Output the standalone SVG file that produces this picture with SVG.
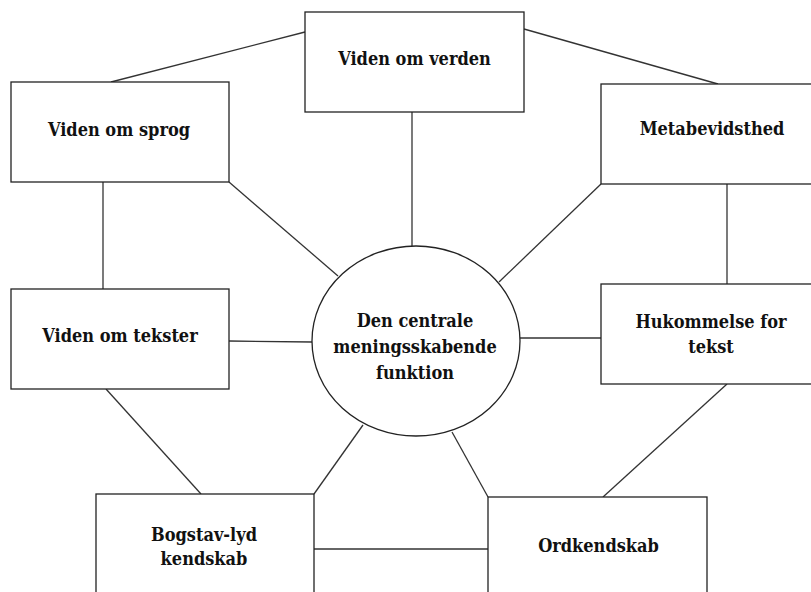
<svg xmlns="http://www.w3.org/2000/svg" width="811" height="592" viewBox="0 0 811 592">
<style>
.box{fill:#fff;stroke:#222;stroke-width:1.3}
.conn line{stroke:#333;stroke-width:1.3}
text{font-family:"DejaVu Serif Condensed","DejaVu Serif","Liberation Serif",serif;font-weight:bold;font-size:18px;fill:#111;text-anchor:middle}
</style>
<rect width="811" height="592" fill="#fff"/>
<g id="connectors" class="conn">
<line x1="305" y1="32" x2="111" y2="82"/>
<line x1="524" y1="29" x2="718" y2="84"/>
<line x1="412" y1="112" x2="412" y2="246"/>
<line x1="103" y1="182" x2="103" y2="289"/>
<line x1="229" y1="182" x2="338" y2="276"/>
<line x1="601" y1="184" x2="499" y2="282"/>
<line x1="727" y1="184" x2="727" y2="284"/>
<line x1="229" y1="341" x2="312" y2="342"/>
<line x1="520" y1="338" x2="601" y2="338"/>
<line x1="106" y1="389" x2="201" y2="494"/>
<line x1="363" y1="425" x2="314" y2="494"/>
<line x1="452" y1="432" x2="488" y2="497"/>
<line x1="727" y1="384" x2="603" y2="497"/>
<line x1="314" y1="549" x2="488" y2="549"/>
</g>
<g id="viden-om-verden"><rect class="box" x="305" y="12" width="219" height="100"/><text x="414.5" y="65">Viden om verden</text></g>
<g id="viden-om-sprog"><rect class="box" x="11" y="82" width="218" height="100"/><text x="119" y="136">Viden om sprog</text></g>
<g id="metabevidsthed"><rect class="box" x="601" y="84" width="218" height="100"/><text x="712" y="135">Metabevidsthed</text></g>
<g id="viden-om-tekster"><rect class="box" x="11" y="289" width="218" height="100"/><text x="120" y="342">Viden om tekster</text></g>
<g id="hukommelse"><rect class="box" x="601" y="284" width="218" height="100"/><text x="711" y="328">Hukommelse for</text><text x="711" y="353">tekst</text></g>
<g id="center"><ellipse class="box" cx="416" cy="341" rx="104" ry="95"/><text x="415" y="327">Den centrale</text><text x="415" y="353">meningsskabende</text><text x="415" y="379">funktion</text></g>
<g id="bogstav-lyd"><rect class="box" x="96" y="494" width="218" height="110"/><text x="204" y="541">Bogstav-lyd</text><text x="204" y="565">kendskab</text></g>
<g id="ordkendskab"><rect class="box" x="488" y="497" width="219" height="110"/><text x="598.5" y="552">Ordkendskab</text></g>
</svg>
